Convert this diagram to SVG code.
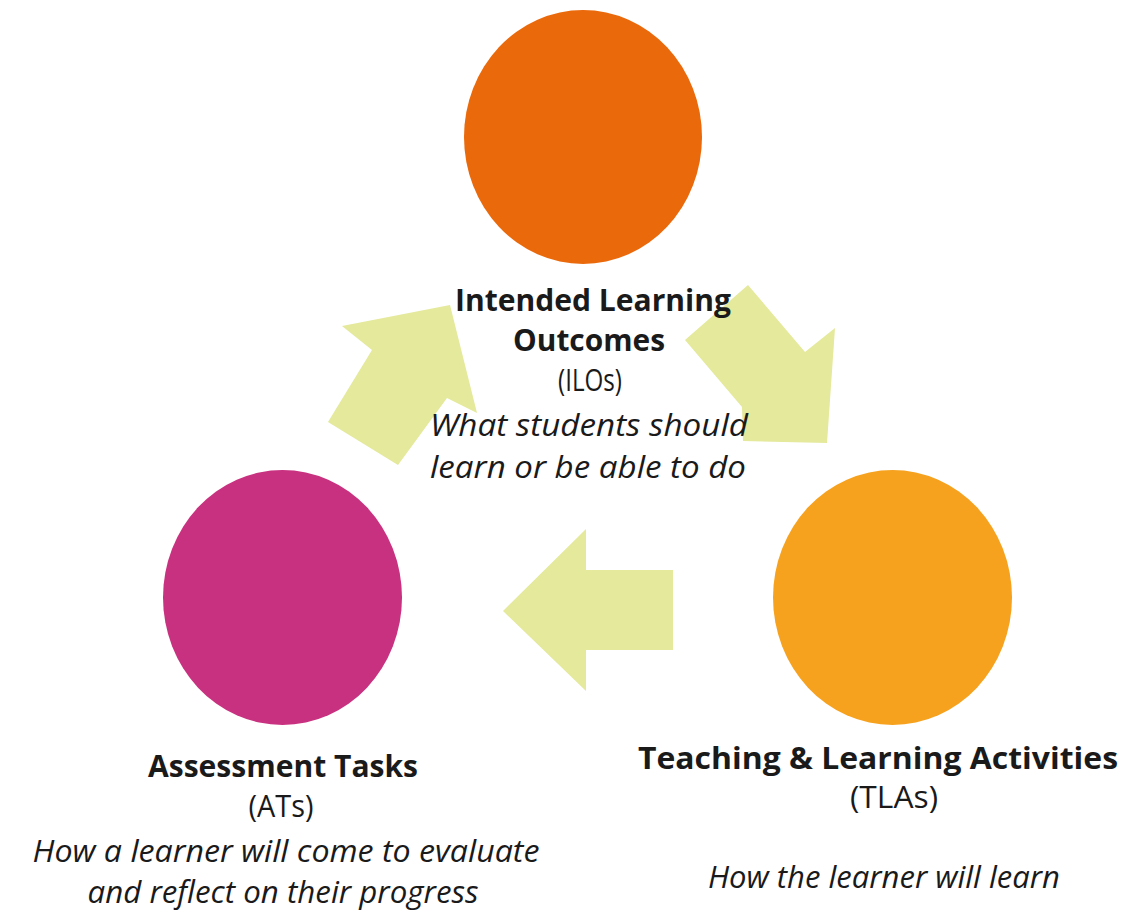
<svg xmlns="http://www.w3.org/2000/svg" width="1122" height="917" viewBox="0 0 1122 917">
<style>
.t{font-family:"Open Sans","Liberation Sans",sans-serif;font-size:31px;fill:#1a1a1a;text-anchor:middle}
.b{font-weight:bold}
.i{font-style:italic}
.arrow{fill:#E4E99B}
</style>
<rect width="1122" height="917" fill="#ffffff"/>
<g id="connectors">
<polygon class="arrow" points="450,305 342,326 372,350 328,422 398,465 447,398 477,413"/>
<polygon class="arrow" points="748,285 805,352 835,328 827,443 743,441 742,407 685,340"/>
<polygon class="arrow" points="503,611 586,529 586,570 673,570 673,650 586,650 586,691"/>
</g>
<g id="ilo">
<ellipse cx="583" cy="137" rx="119" ry="127" fill="#EA690B"/>
<text class="t b" x="593" y="311" textLength="276" lengthAdjust="spacingAndGlyphs">Intended Learning</text>
<text class="t b" x="589" y="351" textLength="152" lengthAdjust="spacingAndGlyphs">Outcomes</text>
<text class="t" x="590" y="391" textLength="64" lengthAdjust="spacingAndGlyphs">(ILOs)</text>
<text class="t i" x="589" y="436" textLength="318" lengthAdjust="spacingAndGlyphs">What students should</text>
<text class="t i" x="588" y="478" textLength="316" lengthAdjust="spacingAndGlyphs">learn or be able to do</text>
</g>
<g id="at">
<ellipse cx="282.5" cy="597.5" rx="119.5" ry="127.5" fill="#C8317F"/>
<text class="t b" x="283" y="777" textLength="270" lengthAdjust="spacingAndGlyphs">Assessment Tasks</text>
<text class="t" x="281" y="817" textLength="65" lengthAdjust="spacingAndGlyphs">(ATs)</text>
<text class="t i" x="286" y="862" textLength="507" lengthAdjust="spacingAndGlyphs">How a learner will come to evaluate</text>
<text class="t i" x="283" y="903" textLength="391" lengthAdjust="spacingAndGlyphs">and reflect on their progress</text>
</g>
<g id="tla">
<ellipse cx="892.5" cy="597.5" rx="119.5" ry="127.5" fill="#F6A21F"/>
<text class="t b" x="878" y="769" textLength="480" lengthAdjust="spacingAndGlyphs">Teaching &amp; Learning Activities</text>
<text class="t" x="894" y="808" textLength="88" lengthAdjust="spacingAndGlyphs">(TLAs)</text>
<text class="t i" x="884" y="888" textLength="352" lengthAdjust="spacingAndGlyphs">How the learner will learn</text>
</g>
</svg>
